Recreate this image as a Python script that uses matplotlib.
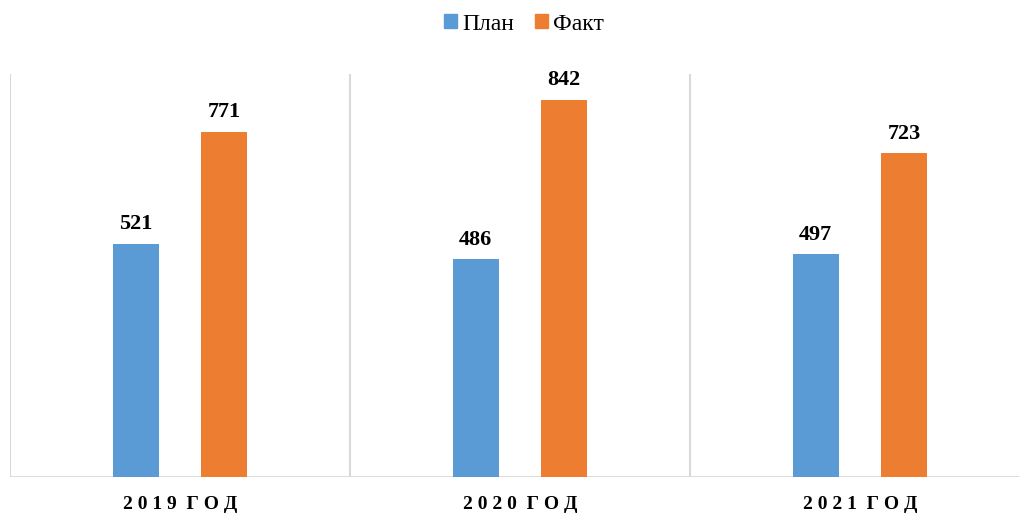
import numpy as np
import matplotlib
matplotlib.use("Agg")
import matplotlib.pyplot as plt
from matplotlib.patches import Patch

years = ["2019 ГОД", "2020 ГОД", "2021 ГОД"]
plan = [521, 486, 497]
fact = [771, 842, 723]

BLUE, ORANGE, GRID = "#5B9BD5", "#ED7D31", "#D9D9D9"
plt.rcParams["font.family"] = ["Liberation Serif", "DejaVu Serif"]

fig = plt.figure(figsize=(10.19, 5.15), dpi=100)
ax = fig.add_axes([10 / 1019, 38 / 515, 1 - 10 / 1019, (477 - 74) / 515])

x = np.arange(len(years))
w, off = 0.135, 0.13
b1 = ax.bar(x - off, plan, w, color=BLUE, label="План")
b2 = ax.bar(x + off, fact, w, color=ORANGE, label="Факт")

for bars in (b1, b2):
    for b in bars:
        ax.annotate(f"{b.get_height():.0f}", (b.get_x() + b.get_width() / 2, b.get_height()),
                    xytext=(0, 7), textcoords="offset points", ha="center", va="bottom",
                    fontsize=16, fontweight="bold")

ax.set_xlim(-0.5, -0.5 + 1009 / 340)
ax.set_ylim(0, 900)
for s in ax.spines.values():
    s.set_visible(False)
ax.axhline(0, color=GRID, lw=2, zorder=0)
for xv in (-0.5, 0.5, 1.5):
    ax.axvline(xv, color=GRID, lw=1.5, zorder=0)
ax.set_yticks([])
ax.set_xticks(x)
ax.set_xticklabels([" ".join(y.split()[0]) + "  " + " ".join(y.split()[1]) for y in years],
                   fontsize=14, fontweight="bold")
ax.tick_params(axis="x", length=0, pad=14)

handles = [Patch(color=BLUE, label="План"), Patch(color=ORANGE, label="Факт")]
fig.legend(handles=handles, loc="center", bbox_to_anchor=(524 / 1019, 1 - 24 / 515), ncol=2,
           frameon=False, fontsize=17, handlelength=0.55, handleheight=0.55,
           handletextpad=0.2, columnspacing=0.9)

fig.savefig("out.png", dpi=100)
